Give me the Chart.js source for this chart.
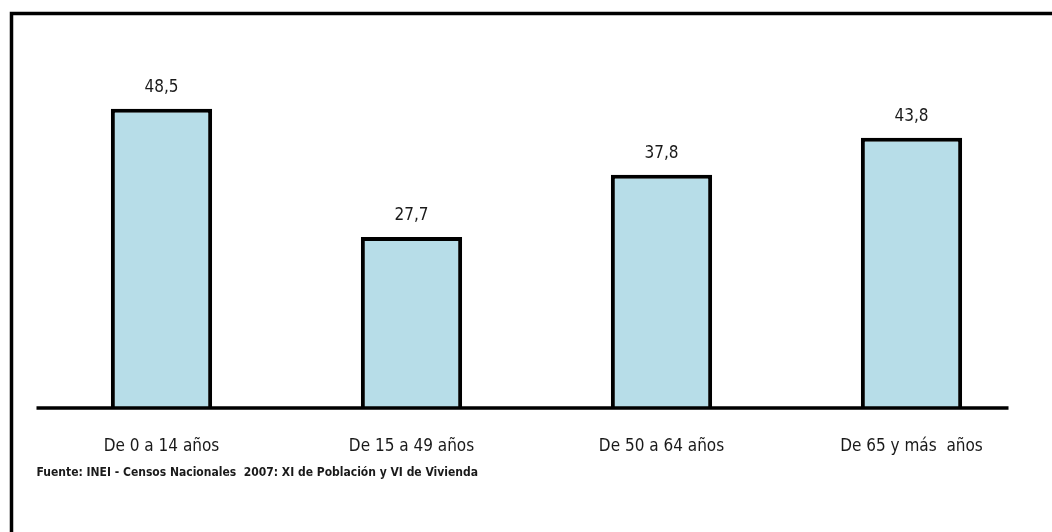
<!DOCTYPE html>
<html>
<head>
<meta charset="utf-8">
<script src="https://cdn.jsdelivr.net/npm/chart.js@4.4.0/dist/chart.umd.min.js"></script>
<style>
  html, body { margin: 0; padding: 0; background: #ffffff; }
  #wrap { position: relative; width: 1052px; height: 532px; }
</style>
</head>
<body>
<div id="wrap"><canvas id="c" width="1052" height="532"></canvas></div>
<script>
const categories = ["De 0 a 14 años", "De 15 a 49 años", "De 50 a 64 años", "De 65 y más  años"];
const values = [48.5, 27.7, 37.8, 43.8];
const sourceText = "Fuente: INEI - Censos Nacionales  2007: XI de Población y VI de Vivienda";

const FONT = "'Liberation Sans Narrow', 'Arial Narrow', 'DejaVu Sans Condensed', 'Liberation Sans', sans-serif";

const decor = {
  id: 'decor',
  beforeDraw(chart) {
    const ctx = chart.ctx;
    ctx.save();
    ctx.fillStyle = '#ffffff';
    ctx.fillRect(0, 0, chart.width, chart.height);
    // frame (top and left)
    ctx.strokeStyle = '#000000';
    ctx.lineWidth = 3.5;
    ctx.beginPath();
    ctx.moveTo(11.5, chart.height);
    ctx.lineTo(11.5, 13.5);
    ctx.lineTo(chart.width, 13.5);
    ctx.stroke();
    ctx.restore();
  },
  afterDatasetsDraw(chart) {
    const ctx = chart.ctx;
    const y0 = chart.scales.y.getPixelForValue(0);
    const area = chart.chartArea;
    ctx.save();
    ctx.strokeStyle = '#000000';
    ctx.lineWidth = 3.5;
    ctx.beginPath();
    ctx.moveTo(area.left, y0 + 0.5);
    ctx.lineTo(area.right - 28, y0 + 0.5);
    ctx.stroke();
    // value labels
    const meta = chart.getDatasetMeta(0);
    ctx.fillStyle = '#1a1a1a';
    ctx.font = "17px " + FONT;
    ctx.textAlign = 'center';
    ctx.textBaseline = 'middle';
    meta.data.forEach((bar, i) => {
      const v = chart.data.datasets[0].data[i];
      ctx.fillText(v.toFixed(1).replace('.', ','), bar.x, bar.y - 21);
    });
    // source note
    ctx.font = "bold 12px " + FONT;
    ctx.textAlign = 'left';
    ctx.fillText(sourceText, area.left, y0 + 65);
    ctx.restore();
  }
};

new Chart(document.getElementById('c'), {
  type: 'bar',
  data: {
    labels: categories,
    datasets: [{
      data: values,
      backgroundColor: '#b7dde8',
      borderColor: '#000000',
      borderWidth: 4,
      borderSkipped: 'bottom',
      barPercentage: 0.81,
      categoryPercentage: 0.5
    }]
  },
  options: {
    responsive: false,
    animation: false,
    devicePixelRatio: 1,
    layout: { padding: { left: 36.5, right: 15.5, top: 38, bottom: 46 } },
    plugins: {
      legend: { display: false },
      tooltip: { enabled: false },
      title: { display: false }
    },
    scales: {
      x: {
        grid: { display: false, drawTicks: false },
        border: { display: false },
        ticks: {
          color: '#1a1a1a',
          padding: 29,
          maxRotation: 0,
          autoSkip: false,
          font: { family: FONT, size: 17, lineHeight: 1.2 }
        }
      },
      y: {
        display: false,
        min: 0,
        max: 60
      }
    }
  },
  plugins: [decor]
});
</script>
</body>
</html>
